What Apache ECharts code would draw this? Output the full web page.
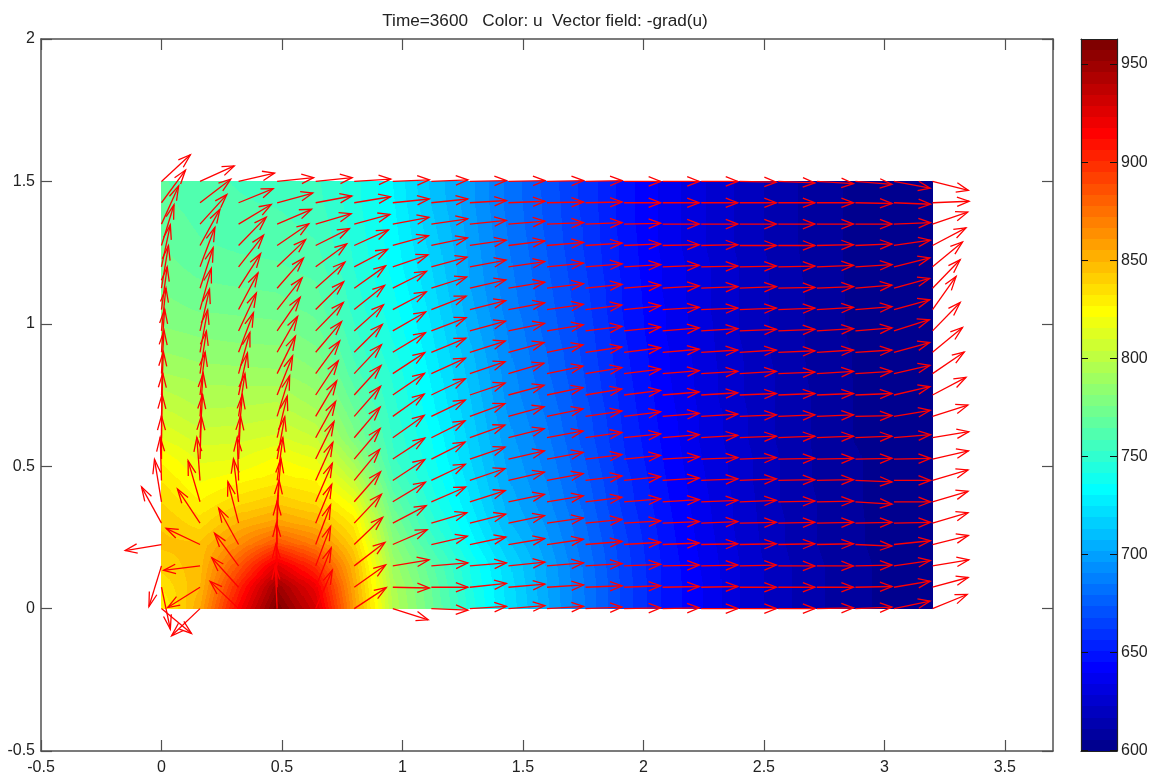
<!DOCTYPE html>
<html>
<head>
<meta charset="utf-8">
<style>html,body{margin:0;padding:0;background:#fff}#c{width:1154px;height:776px}</style>
<script src="https://cdn.jsdelivr.net/npm/echarts@6/dist/echarts.min.js"></script>
</head>
<body>
<div id="c"></div>
<script>
const titleText = 'Time=3600   Color: u  Vector field: -grad(u)';
const xNodes = [0,0.16,0.32,0.48,0.64,0.8,0.96,1.12,1.28,1.44,1.6,1.76,1.92,2.08,2.24,2.4,2.56,2.72,2.88,3.04,3.2];
const yNodes = [0,0.075,0.15,0.225,0.3,0.375,0.45,0.525,0.6,0.675,0.75,0.825,0.9,0.975,1.05,1.125,1.2,1.275,1.35,1.425,1.5];
const colorbarTicks = [600,650,700,750,800,850,900,950];
const colorMin = 599.6, colorMax = 962.8;
const arrowLength = 0.152;

// u[column][row] (row 0 is y=0)
const u = [
[825,833,840,845,843,838,832,825,815,807,800,793,787,782,778,775,772,770,768,766,765],
[855,849,847,845,835,827,820,814,807,800,795,790,784,780,775,771,768,765,763,761,760],
[915,903,885,865,850,836,825,815,808,801,795,789,783,779,774,770,766,763,761,759,758],
[962,950,925,887,858,842,830,822,811,803,796,788,783,778,773,769,765,762,760,758,757],
[930,920,898,870,850,836,826,815,804,795,788,782,777,772,768,765,762,759,757,755,754],
[860,855,850,840,830,818,803,790,778,772,766,761,757,754,751,749,747,746,745,744,744],
[797,795,790,783,776,768,760,754,752,750,748,746,743,740,738,736,734,733,732,731,730],
[772,770,766,757,750,745,741,738,736,733,731,729,727,725,723,721,719,717,715,713,712],
[745,743,741,734,729,725,722,719,717,715,713,711,709,706,704,702,701,700,699,698,698],
[723,722,720,714,708,705,702,700,698,696,694,693,691,690,688,687,686,685,684,683,683],
[703,702,701,698,695,692,690,688,686,684,682,680,679,677,676,675,674,673,672,672,671],
[684,684,683,681,679,677,675,673,671,670,668,667,666,665,664,663,662,661,661,660,660],
[666,666,665,664,662,660,659,657,656,655,654,653,652,651,650,650,649,649,648,648,648],
[650,650,650,649,648,647,646,645,644,643,642,641,641,640,640,639,639,638,638,638,638],
[640,640,639,638,637,636,635,634,633,633,632,632,631,631,630,630,630,629,629,629,629],
[628,628,628,627,626,626,625,625,624,624,623,623,623,622,622,622,622,621,621,621,621],
[619,619,619,618,618,617,617,617,616,616,616,616,615,615,615,615,615,614,614,614,614],
[612,612,612,611,611,611,610,610,610,610,610,609,609,609,609,609,608,608,608,608,608],
[607,607,607,606,606,606,606,606,605,605,605,605,605,604,604,604,604,604,604,604,604],
[603,603,603,603,603,602,602,602,602,602,602,602,601,601,601,601,601,601,601,601,601],
[601,601,601,601,600,600,600,600,600,600,600,600,600,600,600,600,600,600,600,600,600]
];

// direction of -grad(u) in degrees at each node, read from the arrows
const angle = [
[325,284,250,188,123,101,92,90,89,88,87,86,85,83,81,79,76,70,62,49,38],
[219,208,186,158,128,109,95,88,86,85,82,80,78,75,72,69,66,57,43,33,21],
[141,137,131,123,107,98,92,87,84,80,76,72,66,61,58,53,47,41,27,19,11],
[93,92,91,90,87,84,81,78,74,70,65,60,56,51,47,44,39,30,20,13,5],
[63,65,66,66,64,63,62,60,57,55,52,49,45,41,40,37,32,23,14,9,5],
[29,31,33,39,42,44,46,45,45,44,43,42,40,37,34,31,24,21,13,8,3],
[345,359,8,20,24,27,29,29,31,31,30,29,27,26,24,23,16,13,9,5,2],
[358,0,4,11,14,20,22,23,23,22,22,21,19,18,18,15,13,10,7,5,2],
[3,5,4,10,12,15,16,16,17,17,16,16,15,13,12,11,9,7,5,3,1],
[4,4,5,8,10,10,11,11,12,13,13,14,13,10,9,8,7,6,4,2,1],
[3,3,4,7,7,8,9,9,9,10,10,10,10,8,7,6,5,4,2,1,1],
[2,2,3,4,5,6,6,6,7,7,8,8,7,6,6,5,4,3,2,1,1],
[1,2,2,3,3,4,5,5,5,6,6,6,6,5,5,4,3,2,1,0,0],
[1,1,1,2,2,3,3,3,4,4,4,4,4,4,3,3,2,1,0,0,0],
[0,1,1,1,2,2,2,2,3,3,3,3,3,3,2,2,1,1,0,0,0],
[0,0,1,1,1,2,2,2,2,2,2,3,3,2,2,2,1,0,0,0,359],
[0,0,0,1,1,1,1,1,2,2,2,2,2,2,2,1,1,0,0,0,358],
[1,0,0,1,1,1,1,1,2,2,2,3,3,3,3,2,2,1,0,0,357],
[2,1,1,358,1,357,358,1,2,1,2,3,3,4,4,4,3,2,0,359,356],
[10,8,7,5,1,0,0,1,4,8,11,11,13,15,13,13,12,7,2,358,351],
[19,13,8,12,14,14,14,11,8,15,24,30,35,41,50,41,35,24,16,2,348]
];

// MATLAB jet colour map with 64 levels
const LEVELS = 64;
const palette = [];
for (let k=1;k<=LEVELS;k++){
  const t = k/LEVELS;
  const r = Math.round(255*Math.max(0,Math.min(1,Math.min(4*t-1.5,-4*t+4.5))));
  const g = Math.round(255*Math.max(0,Math.min(1,Math.min(4*t-0.5,-4*t+3.5))));
  const b = Math.round(255*Math.max(0,Math.min(1,Math.min(4*t+0.5,-4*t+2.5))));
  palette.push('rgb('+r+','+g+','+b+')');
}
function levelOf(v){
  let k = Math.floor((v-colorMin)/(colorMax-colorMin)*LEVELS);
  return Math.max(0,Math.min(LEVELS-1,k));
}

const cellData = [];
for (let i=0;i<xNodes.length-1;i++) for (let j=0;j<yNodes.length-1;j++) cellData.push([xNodes[i],yNodes[j],i,j]);
const arrowData = [];
for (let i=0;i<xNodes.length;i++) for (let j=0;j<yNodes.length;j++) arrowData.push([xNodes[i],yNodes[j],angle[i][j]]);
const barData = [];
for (let k=0;k<LEVELS;k++) barData.push([0,colorMin+(colorMax-colorMin)*k/LEVELS,k]);

const SUBX = 38, SUBY = 22;
function renderCell(params, api){
  const i = api.value(2), j = api.value(3);
  const p0 = api.coord([xNodes[i],yNodes[j]]);
  const p1 = api.coord([xNodes[i+1],yNodes[j+1]]);
  const children = [];
  const u00=u[i][j],u10=u[i+1][j],u01=u[i][j+1],u11=u[i+1][j+1];
  for (let b=0;b<SUBY;b++){
    const y0=Math.round(p0[1]+(p1[1]-p0[1])*b/SUBY), y1=Math.round(p0[1]+(p1[1]-p0[1])*(b+1)/SUBY);
    if (y0===y1) continue;
    const fy=(b+0.5)/SUBY;
    let start=0, cur=-1;
    for (let a=0;a<=SUBX;a++){
      let lev=-2;
      if (a<SUBX){
        const fx=(a+0.5)/SUBX;
        lev=levelOf(u00*(1-fx)*(1-fy)+u10*fx*(1-fy)+u01*(1-fx)*fy+u11*fx*fy);
      }
      if (lev!==cur){
        if (cur>=0){
          const x0=Math.round(p0[0]+(p1[0]-p0[0])*start/SUBX), x1=Math.round(p0[0]+(p1[0]-p0[0])*a/SUBX);
          children.push({type:'rect',silent:true,shape:{x:x0,y:Math.min(y0,y1),width:x1-x0,height:Math.abs(y1-y0)},style:{fill:palette[cur]}});
        }
        cur=lev; start=a;
      }
    }
  }
  return {type:'group',silent:true,children};
}
function renderArrow(params, api){
  const x=api.value(0), y=api.value(1), a=api.value(2)*Math.PI/180;
  const du=arrowLength*Math.cos(a), dv=arrowLength*Math.sin(a);
  const al=0.33, be=0.33;
  const tail=api.coord([x,y]), tip=api.coord([x+du,y+dv]);
  const h1=api.coord([x+du-al*(du+be*dv),y+dv-al*(dv-be*du)]);
  const h2=api.coord([x+du-al*(du-be*dv),y+dv-al*(dv+be*du)]);
  const st={stroke:'#ff0000',lineWidth:1.3,fill:null};
  return {type:'group',silent:true,children:[
    {type:'polyline',silent:true,shape:{points:[tail,tip]},style:st},
    {type:'polyline',silent:true,shape:{points:[h1,tip,h2]},style:st}
  ]};
}
function renderBar(params, api){
  const k=api.value(2);
  const p0=api.coord([0,colorMin+(colorMax-colorMin)*k/LEVELS]);
  const p1=api.coord([1,colorMin+(colorMax-colorMin)*(k+1)/LEVELS]);
  const y0=Math.round(p0[1]), y1=Math.round(p1[1]);
  return {type:'rect',silent:true,shape:{x:p0[0],y:y1,width:p1[0]-p0[0],height:y0-y1},style:{fill:palette[k]}};
}

const axisCol='#505050', txt='#222', fnt='"Liberation Sans", Arial, sans-serif';
function mainX(pos,show){return {type:'value',gridIndex:0,position:pos,min:-0.5,max:3.7,interval:0.5,
  axisLine:{show:true,onZero:false,lineStyle:{color:axisCol,width:1.5}},
  axisTick:{show:true,inside:true,length:11,lineStyle:{color:axisCol,width:1.2}},
  axisLabel:{show:show,margin:9,showMaxLabel:false,color:txt,fontFamily:fnt,fontSize:16,formatter:v=>String(v)},splitLine:{show:false}};}
function mainY(pos,show){return {type:'value',gridIndex:0,position:pos,min:-0.5,max:2,interval:0.5,
  axisLine:{show:true,onZero:false,lineStyle:{color:axisCol,width:1.5}},
  axisTick:{show:true,inside:true,length:11,lineStyle:{color:axisCol,width:1.2}},
  axisLabel:{show:show,margin:6,color:txt,fontFamily:fnt,fontSize:16,formatter:v=>String(v)},splitLine:{show:false}};}
function barY(pos,show){return {type:'value',gridIndex:1,position:pos,min:colorMin,max:colorMax,z:8,
  axisLine:{show:true,onZero:false,lineStyle:{color:'#222',width:1.2}},
  axisTick:{show:true,inside:true,length:7,customValues:colorbarTicks,lineStyle:{color:'#111',width:1}},
  axisLabel:{show:show,margin:4,customValues:colorbarTicks,color:txt,fontFamily:fnt,fontSize:16},splitLine:{show:false}};}
function barX(pos){return {type:'value',gridIndex:1,position:pos,min:0,max:1,z:8,
  axisLine:{show:true,onZero:false,lineStyle:{color:'#222',width:1.2}},axisTick:{show:false},axisLabel:{show:false},splitLine:{show:false}};}

const chart=echarts.init(document.getElementById('c'),null,{renderer:'canvas'});
chart.setOption({
  animation:false,backgroundColor:'#fff',
  title:{text:titleText,left:540,top:8,textAlign:'center',textStyle:{color:txt,fontFamily:fnt,fontSize:17.2,fontWeight:'normal'}},
  grid:[{left:41,top:39,width:1012,height:712,containLabel:false},{left:1081,top:39,width:36,height:712}],
  xAxis:[mainX('bottom',true),mainX('top',false),barX('bottom'),barX('top')],
  yAxis:[mainY('left',true),mainY('right',false),barY('right',true),barY('left',false)],
  series:[
    {type:'custom',xAxisIndex:0,yAxisIndex:0,data:cellData,renderItem:renderCell,encode:{x:0,y:1},silent:true,progressive:0,z:2},
    {type:'custom',xAxisIndex:0,yAxisIndex:0,data:arrowData,renderItem:renderArrow,encode:{x:0,y:1},silent:true,progressive:0,z:3},
    {type:'custom',xAxisIndex:2,yAxisIndex:2,data:barData,renderItem:renderBar,encode:{x:0,y:1},silent:true,progressive:0,z:2}
  ]
});
</script>
</body>
</html>
